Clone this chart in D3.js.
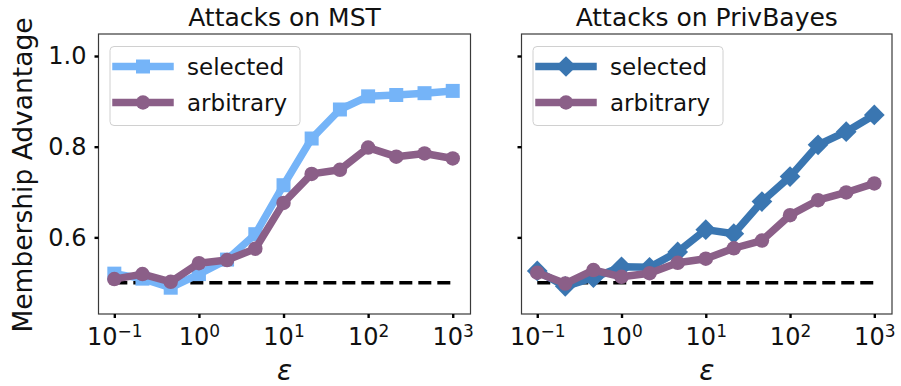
<!DOCTYPE html>
<html>
<head>
<meta charset="utf-8">
<script src="https://cdn.jsdelivr.net/npm/d3@7"></script>
<style>
  html, body { margin: 0; padding: 0; background: #fff; }
  svg { display: block; font-family: "DejaVu Sans", sans-serif; }
</style>
</head>
<body>
<svg id="chart" width="901" height="386"></svg>
<script>
// ---------------- data ----------------
const epsilon = [0.1, 0.215, 0.464, 1, 2.15, 4.64, 10, 21.5, 46.4, 100, 215, 464, 1000];
const mstSelected  = [0.520, 0.509, 0.489, 0.519, 0.551, 0.607, 0.715, 0.818, 0.882, 0.911, 0.914, 0.918, 0.923];
const mstArbitrary = [0.508, 0.519, 0.502, 0.543, 0.550, 0.575, 0.676, 0.740, 0.749, 0.798, 0.778, 0.785, 0.774];
const pbSelected   = [0.526, 0.492, 0.511, 0.535, 0.534, 0.568, 0.617, 0.608, 0.679, 0.734, 0.804, 0.833, 0.870];
const pbArbitrary  = [0.522, 0.498, 0.528, 0.513, 0.521, 0.544, 0.553, 0.576, 0.593, 0.649, 0.682, 0.699, 0.719];
const baselineValue = 0.5;
const xTickValues = [0.1, 1, 10, 100, 1000];
const xTickExponents = ["−1", "0", "1", "2", "3"];
const yTickValues = [0.6, 0.8, 1.0];
const panelTitles = ["Attacks on MST", "Attacks on PrivBayes"];
const seriesNames = ["selected", "arbitrary"];
const yAxisTitle = "Membership Advantage";
const xAxisTitle = "ε";

// ---------------- layout / style ----------------
const colors = { mstSel: "#75b4f8", pbSel: "#3a76b1", arb: "#8b5f88" };
const plotTop = 34, plotBottom = 314;
const panels = [
  { title: panelTitles[0], left: 98.5, right: 470.5, sel: mstSelected, arb: mstArbitrary,
    selColor: colors.mstSel, selMarker: "square", yLabels: true, legendX: 110 },
  { title: panelTitles[1], left: 521.5, right: 892, sel: pbSelected, arb: pbArbitrary,
    selColor: colors.pbSel, selMarker: "diamond", yLabels: false, legendX: 533 }
];

const svg = d3.select("#chart");
const y = d3.scaleLinear().domain([0.431, 1.0485]).range([plotBottom, plotTop]);

function markerPath(kind) {
  if (kind === "square") return d3.symbol(d3.symbolSquare, 196)();
  if (kind === "diamond") return d3.symbol(d3.symbolSquare, 215)();
  return d3.symbol(d3.symbolCircle, 165)();
}
function markerTransform(kind, px, py) {
  return kind === "diamond" ? `translate(${px},${py}) rotate(45)` : `translate(${px},${py})`;
}

panels.forEach(p => {
  const x = d3.scaleLog().domain([Math.pow(10, -1.187), Math.pow(10, 3.21)]).range([p.left, p.right]);
  const g = svg.append("g");

  // frame
  g.append("rect").attr("x", p.left).attr("y", plotTop)
    .attr("width", p.right - p.left).attr("height", plotBottom - plotTop)
    .attr("fill", "none").attr("stroke", "#3a3a3a").attr("stroke-width", 1.2);

  // x axis
  const xa = g.append("g").attr("transform", `translate(0,${plotBottom})`)
    .call(d3.axisBottom(x).tickValues(xTickValues).tickSize(4).tickPadding(10).tickFormat(""));
  xa.select(".domain").remove();
  xa.selectAll(".tick line").attr("stroke", "#000").attr("stroke-width", 2.4);
  xa.selectAll(".tick text").each(function(d, i) {
    const t = d3.select(this).attr("fill", "#111").attr("font-size", 24).attr("dy", "0.72em")
      .attr("font-family", "DejaVu Sans, sans-serif");
    t.text("");
    t.append("tspan").text("10");
    t.append("tspan").attr("font-size", 17).attr("dy", -8).text(xTickExponents[i]);
  });

  // y axis
  const ya = g.append("g").attr("transform", `translate(${p.left},0)`)
    .call(d3.axisLeft(y).tickValues(yTickValues).tickSize(4).tickPadding(8)
      .tickFormat(p.yLabels ? d3.format(".1f") : ""));
  ya.select(".domain").remove();
  ya.selectAll(".tick line").attr("stroke", "#000").attr("stroke-width", 2.4);
  ya.selectAll(".tick text").attr("fill", "#111").attr("font-size", 24)
    .attr("font-family", "DejaVu Sans, sans-serif");

  // title
  g.append("text").attr("x", (p.left + p.right) / 2).attr("y", 26)
    .attr("text-anchor", "middle").attr("font-size", 25).attr("fill", "#111").text(p.title);

  // x label
  g.append("text").attr("x", (p.left + p.right) / 2).attr("y", 380)
    .attr("text-anchor", "middle").attr("font-size", 28).attr("font-style", "italic")
    .attr("fill", "#111").text(xAxisTitle);

  // baseline dashed
  g.append("line").attr("x1", x(epsilon[0])).attr("x2", x(epsilon[epsilon.length - 1]))
    .attr("y1", y(baselineValue)).attr("y2", y(baselineValue))
    .attr("stroke", "#000").attr("stroke-width", 3.5).attr("stroke-dasharray", "13,6");

  const line = d3.line().x(d => x(d[0])).y(d => y(d[1]));
  const series = [
    { vals: p.sel, color: p.selColor, marker: p.selMarker },
    { vals: p.arb, color: colors.arb, marker: "circle" }
  ];
  series.forEach(s => {
    const pts = epsilon.map((e, i) => [e, s.vals[i]]);
    g.append("path").attr("d", line(pts)).attr("fill", "none")
      .attr("stroke", s.color).attr("stroke-width", 7.5)
      .attr("stroke-linejoin", "round");
    g.selectAll(null).data(pts).enter().append("path")
      .attr("d", markerPath(s.marker))
      .attr("transform", d => markerTransform(s.marker, x(d[0]), y(d[1])))
      .attr("fill", s.color);
  });

  // legend
  const lg = g.append("g");
  lg.append("rect").attr("x", p.legendX).attr("y", 46.5).attr("width", 190).attr("height", 79)
    .attr("rx", 4).attr("fill", "#fff").attr("fill-opacity", 0.8)
    .attr("stroke", "#d0d0d0").attr("stroke-width", 1);
  series.forEach((s, i) => {
    const ly = 66.5 + i * 36;
    const lx0 = p.legendX + 6, lx1 = p.legendX + 60;
    lg.append("line").attr("x1", lx0).attr("x2", lx1).attr("y1", ly).attr("y2", ly)
      .attr("stroke", s.color).attr("stroke-width", 7.5).attr("stroke-linecap", "square");
    lg.append("path").attr("d", markerPath(s.marker))
      .attr("transform", markerTransform(s.marker, (lx0 + lx1) / 2, ly)).attr("fill", s.color);
    lg.append("text").attr("x", p.legendX + 77).attr("y", ly + 8.5)
      .attr("font-size", 23).attr("fill", "#111").text(seriesNames[i]);
  });
});

// y axis title
svg.append("text").attr("transform", "translate(32,175) rotate(-90)")
  .attr("text-anchor", "middle").attr("font-size", 26.5).attr("fill", "#111").text(yAxisTitle);
</script>
</body>
</html>
